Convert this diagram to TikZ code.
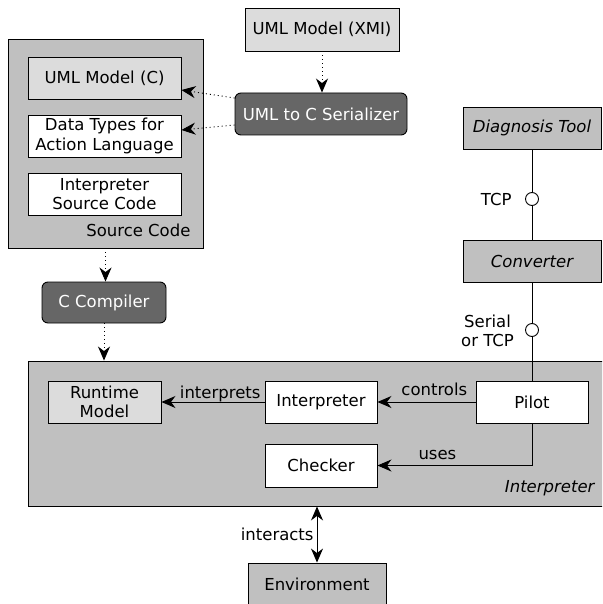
\documentclass[tikz,border=0pt]{standalone}
\usepackage{fontspec}
\setmainfont{DejaVu Sans}
\usetikzlibrary{arrows.meta}

\definecolor{boxgray}{HTML}{C0C0C0}
\definecolor{paleg}{HTML}{DCDCDC}
\definecolor{darkg}{HTML}{666666}

\tikzset{
  box/.style={draw, line width=0.9pt, inner sep=0pt, align=center},
  container/.style={box, fill=boxgray},
  plainbox/.style={box, fill=white, minimum height=42pt},
  modelbox/.style={box, fill=paleg, minimum height=42pt},
  toolbox/.style={box, fill=darkg, text=white, rounded corners=6pt, minimum height=42pt},
  extbox/.style={box, fill=boxgray, minimum height=42pt},
  port/.style={circle, draw, line width=0.9pt, fill=white, minimum size=13pt, inner sep=0pt},
  head/.tip={Stealth[length=14pt, width=12pt, inset=4.5pt]},
  flow/.style={-head, line width=0.9pt},
  gen/.style={-head, line width=0.9pt, dash pattern=on 1pt off 3pt},
  wire/.style={line width=0.9pt},
  lbl/.style={inner sep=5pt},
}

\begin{document}
\begin{tikzpicture}[x=1pt, y=-1pt, font=\fontsize{16.5}{19.5}\selectfont]
\useasboundingbox (0,0) rectangle (602,604);
\clip (0,0) rectangle (602,604);

% source code package
\node[container, minimum width=195pt, minimum height=209pt] (src) at (105.5,143.5) {};
\node[anchor=east] (srclbl) at (194,230) {Source Code};
\node[modelbox, minimum width=153pt] (umlc) at (104.5,78) {UML Model (C)};
\node[plainbox, minimum width=153pt] (dtypes) at (104.5,136) {Data Types for\\Action Language};
\node[plainbox, minimum width=153pt] (isrc) at (104.5,194) {Interpreter\\Source Code};

% model and generators
\node[modelbox, minimum width=154pt, minimum height=43pt] (xmi) at (322,29.5) {UML Model (XMI)};
\node[toolbox, minimum width=172pt] (ser) at (321,114) {UML to C Serializer};
\node[toolbox, minimum width=124pt, minimum height=41pt] (cc) at (104,302.5) {C Compiler};

% diagnosis chain
\node[extbox, minimum width=138pt, font=\fontsize{16.5}{19.5}\selectfont\itshape] (diag) at (532,128) {Diagnosis Tool};
\node[port] (tcp) at (532,199) {};
\node[anchor=east] (tcplbl) at (515,199) {TCP};
\node[extbox, minimum width=138pt, font=\fontsize{16.5}{19.5}\selectfont\itshape] (conv) at (532,261) {Converter};
\node[port] (serial) at (532,330) {};
\node[align=center] (seriallbl) at (487.5,331) {Serial\\or TCP};

% interpreter package
\node[container, minimum width=582pt, minimum height=145pt] (interp) at (319,433.5) {};
\node[anchor=east, font=\fontsize{16.5}{19.5}\selectfont\itshape] (interplbl) at (598,488) {Interpreter};
\node[modelbox, minimum width=113pt] (rtm) at (104.5,402) {Runtime\\Model};
\node[plainbox, minimum width=112pt] (interpI) at (321,402) {Interpreter};
\node[plainbox, minimum width=112pt] (pilot) at (532,402) {Pilot};
\node[plainbox, minimum width=112pt, minimum height=43pt] (checker) at (321,465.5) {Checker};

% environment
\node[extbox, minimum width=138pt] (env) at (317,584) {Environment};

% generation steps
\draw[gen] (xmi.south) -- (xmi.south |- ser.north);
\draw[gen] ([yshift=16pt]ser.west) -- ([yshift=-12pt]umlc.east);
\draw[gen] ([yshift=-11pt]ser.west) -- ([yshift=6pt]dtypes.east);
\draw[gen] (src.south) -- (src.south |- cc.north);
\draw[gen] (cc.south) -- (cc.south |- interp.north);

% communication links
\draw[wire] (diag.south) -- (tcp.north);
\draw[wire] (tcp.south) -- (conv.north);
\draw[wire] (conv.south) -- (serial.north);
\draw[wire] (serial.south) -- (pilot.north);

% runtime relations
\draw[flow] (pilot.west) -- (interpI.east) node[lbl, inner sep=6pt, pos=0.42, above] (ctl) {controls};
\draw[flow] (interpI.west) -- (rtm.east) node[inner sep=0pt, pos=0.43, above] (itp) {interprets};
\draw[flow] (pilot.south) |- (checker.east) node[lbl, pos=0.806, above] (use) {uses};
\draw[flow, head-head] (env.north |- interp.south) -- (env.north)
  node[midway, left, inner sep=3pt] (act) {interacts};
\end{tikzpicture}
\end{document}
